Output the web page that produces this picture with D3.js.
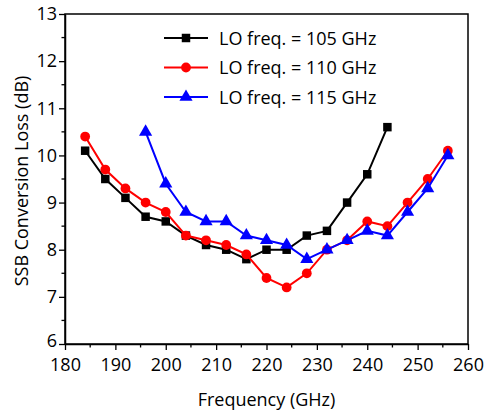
<!DOCTYPE html>
<html lang="en">
  <head>
    <meta charset="utf-8">
    <title>SSB Conversion Loss</title>
    <style>
      body { margin: 0; background: #fff; }
      text { font-family: 'Open Sans', 'Noto Sans', sans-serif; }
    </style>
  </head>
  <body>
    <svg width="485" height="414"></svg>
    <script src="https://cdn.jsdelivr.net/npm/d3@7"></script>
    <script>
      // data
      const freq_105 = [184, 188, 192, 196, 200, 204, 208, 212, 216, 220, 224, 228, 232, 236, 240, 244];
      const loss_105 = [10.1, 9.5, 9.1, 8.7, 8.6, 8.3, 8.1, 8.0, 7.8, 8.0, 8.0, 8.3, 8.4, 9.0, 9.6, 10.6];
      const freq_110 = [184, 188, 192, 196, 200, 204, 208, 212, 216, 220, 224, 228, 232, 236, 240, 244, 248, 252, 256];
      const loss_110 = [10.4, 9.7, 9.3, 9.0, 8.8, 8.3, 8.2, 8.1, 7.9, 7.4, 7.2, 7.5, 8.0, 8.2, 8.6, 8.5, 9.0, 9.5, 10.1];
      const freq_115 = [196, 200, 204, 208, 212, 216, 220, 224, 228, 232, 236, 240, 244, 248, 252, 256];
      const loss_115 = [10.5, 9.4, 8.8, 8.6, 8.6, 8.3, 8.2, 8.1, 7.8, 8.0, 8.2, 8.4, 8.3, 8.8, 9.3, 10.0];
      const series_names = ['LO freq. = 105 GHz', 'LO freq. = 110 GHz', 'LO freq. = 115 GHz'];
      const x_ticks = [180, 190, 200, 210, 220, 230, 240, 250, 260];
      const y_ticks = [6, 7, 8, 9, 10, 11, 12, 13];

      const series = [
        {name: series_names[0], color: '#000000', symbol: d3.symbolSquare, size: 72,
          values: freq_105.map((f, i) => ({f: f, v: loss_105[i]}))},
        {name: series_names[1], color: '#ff0000', symbol: d3.symbolCircle, size: 75,
          values: freq_110.map((f, i) => ({f: f, v: loss_110[i]}))},
        {name: series_names[2], color: '#0000ff', symbol: d3.symbolTriangle, size: 75,
          values: freq_115.map((f, i) => ({f: f, v: loss_115[i]}))}
      ];

      const font_size = '18px';
      const svg = d3.select('svg');
      const margin = {top: 14, right: 17, bottom: 70, left: 65};
      const width = 485 - margin.left - margin.right;
      const height = 414 - margin.top - margin.bottom;

      const x_scale = d3.scaleLinear().domain([180, 260]).range([0, width]);
      const y_scale = d3.scaleLinear().domain([6, 13]).range([height, 0]);

      const g = svg.append('g')
        .attr('transform', `translate(${margin.left},${margin.top})`);

      // frame
      g.append('rect')
        .attr('width', width).attr('height', height)
        .attr('fill', 'none').attr('stroke', '#000').attr('stroke-width', 1.5);

      // minor ticks
      const x_minor = d3.range(185, 260, 10);
      const y_minor = d3.range(6.5, 13, 1);
      g.selectAll('.xminor').data(x_minor).enter().append('line')
        .attr('x1', d => x_scale(d)).attr('x2', d => x_scale(d))
        .attr('y1', height).attr('y2', height + 3.5)
        .attr('stroke', '#000').attr('stroke-width', 1.3);
      g.selectAll('.yminor').data(y_minor).enter().append('line')
        .attr('x1', -3.5).attr('x2', 0)
        .attr('y1', d => y_scale(d)).attr('y2', d => y_scale(d))
        .attr('stroke', '#000').attr('stroke-width', 1.3);

      // axes
      const x_axis = g.append('g')
        .attr('transform', `translate(0,${height})`)
        .call(d3.axisBottom(x_scale).tickValues(x_ticks).tickFormat(d3.format('d'))
          .tickSize(6).tickPadding(8).tickSizeOuter(0));
      const y_axis = g.append('g')
        .call(d3.axisLeft(y_scale).tickValues(y_ticks).tickFormat(d3.format('d'))
          .tickSize(6).tickPadding(2).tickSizeOuter(0));
      [x_axis, y_axis].forEach(a => {
        a.select('.domain').attr('stroke-width', 1.5);
        a.selectAll('.tick line').attr('stroke-width', 1.3);
        a.selectAll('text').attr('font-size', font_size).attr('fill', '#000')
          .attr('font-family', "'Open Sans', 'Noto Sans', sans-serif");
      });
      // the lowest y label sits a little high, as in the reference
      y_axis.selectAll('.tick text').filter(d => d === 6).attr('dy', '0.12em');

      // axis titles
      svg.append('text')
        .attr('x', margin.left + width / 2).attr('y', 406)
        .attr('text-anchor', 'middle').attr('font-size', font_size)
        .text('Frequency (GHz)');
      svg.append('text')
        .attr('transform', `translate(28,${margin.top + height / 2 + 2}) rotate(-90)`)
        .attr('text-anchor', 'middle').attr('font-size', font_size)
        .text('SSB Conversion Loss (dB)');

      const line = d3.line().x(d => x_scale(d.f)).y(d => y_scale(d.v));

      const sg = g.selectAll('.series').data(series).enter().append('g');
      sg.append('path')
        .attr('d', d => line(d.values))
        .attr('fill', 'none')
        .attr('stroke', d => d.color)
        .attr('stroke-width', 2);
      sg.each(function(s) {
        d3.select(this).selectAll('path.mark').data(s.values).enter().append('path')
          .attr('class', 'mark')
          .attr('d', d3.symbol().type(s.symbol).size(s.size))
          .attr('transform', d => `translate(${x_scale(d.f)},${y_scale(d.v)})`)
          .attr('fill', s.color);
      });

      // legend
      const legend = g.selectAll('.legend').data(series).enter().append('g')
        .attr('transform', (d, i) => `translate(99,${24 + i * 29.5})`);
      legend.append('line')
        .attr('x1', 0).attr('x2', 44).attr('y1', 0).attr('y2', 0)
        .attr('stroke', d => d.color).attr('stroke-width', 2);
      legend.append('path')
        .attr('d', d => d3.symbol().type(d.symbol).size(d.size)())
        .attr('transform', 'translate(22,0)')
        .attr('fill', d => d.color);
      legend.append('text')
        .attr('x', 55).attr('y', 6.5)
        .attr('font-size', font_size)
        .text(d => d.name);
    </script>
  </body>
</html>
